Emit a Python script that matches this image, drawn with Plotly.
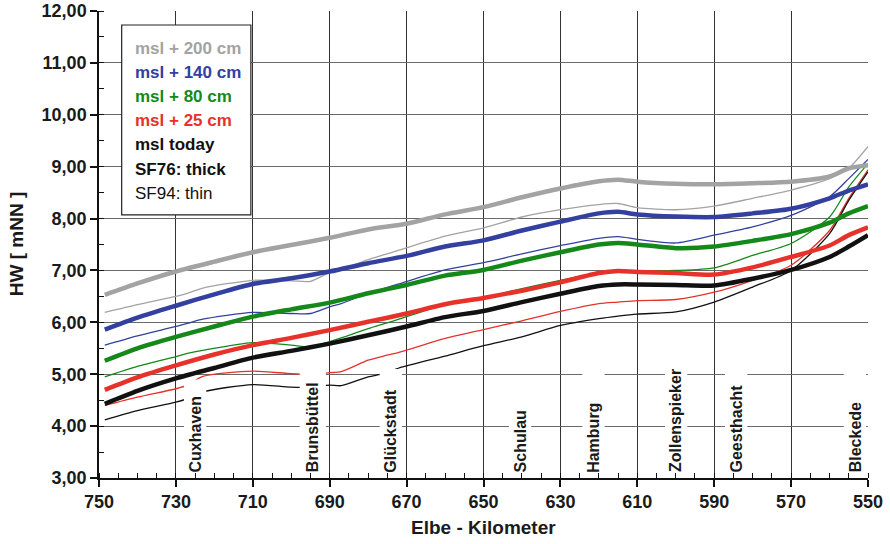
import plotly.graph_objects as go

# Elbe-Kilometer positions (SF76 runs, thick lines)
km_thick = [748.5, 740, 730, 720, 710, 700, 690, 680, 670, 660, 650, 640,
            630, 620, 615, 610, 600, 590, 580, 570, 560, 555, 550]

sf76_msl200 = [6.53, 6.75, 6.98, 7.17, 7.35, 7.49, 7.63, 7.79, 7.90, 8.08, 8.22, 8.41,
               8.58, 8.72, 8.75, 8.71, 8.67, 8.66, 8.68, 8.71, 8.81, 8.97, 9.03]
sf76_msl140 = [5.86, 6.09, 6.32, 6.54, 6.74, 6.85, 6.98, 7.14, 7.28, 7.46, 7.58, 7.77,
               7.94, 8.10, 8.13, 8.08, 8.04, 8.03, 8.10, 8.19, 8.39, 8.54, 8.66]
sf76_msl80 = [5.26, 5.50, 5.72, 5.92, 6.11, 6.25, 6.38, 6.56, 6.72, 6.90, 7.01, 7.19,
              7.35, 7.50, 7.53, 7.50, 7.43, 7.46, 7.57, 7.70, 7.92, 8.10, 8.24]
sf76_msl25 = [4.70, 4.94, 5.17, 5.38, 5.56, 5.70, 5.85, 6.01, 6.17, 6.35, 6.47, 6.61,
              6.77, 6.95, 6.99, 6.97, 6.95, 6.92, 7.06, 7.26, 7.48, 7.68, 7.83]
sf76_today = [4.43, 4.68, 4.92, 5.12, 5.32, 5.45, 5.59, 5.75, 5.92, 6.10, 6.22, 6.39,
              6.55, 6.70, 6.73, 6.73, 6.72, 6.71, 6.84, 7.01, 7.26, 7.46, 7.68]

# Elbe-Kilometer positions (SF94 runs, thin lines)
km_thin = [748.5, 740, 730, 727, 723, 710, 700, 695, 690, 687, 680, 676, 672, 660,
           650, 640, 630, 620, 615, 610, 600, 590, 580, 570, 560, 555, 550]

sf94_msl200 = [6.19, 6.34, 6.50, 6.56, 6.66, 6.81, 6.80, 6.79, 6.96, 7.02, 7.21, 7.30, 7.39, 7.66,
               7.82, 8.03, 8.17, 8.27, 8.29, 8.21, 8.17, 8.24, 8.39, 8.55, 8.77, 8.97, 9.39]
sf94_msl140 = [5.56, 5.74, 5.92, 5.98, 6.06, 6.19, 6.17, 6.17, 6.30, 6.36, 6.56, 6.65, 6.74, 7.01,
               7.15, 7.32, 7.48, 7.62, 7.65, 7.60, 7.53, 7.68, 7.84, 8.06, 8.42, 8.77, 9.14]
sf94_msl80 = [4.95, 5.15, 5.34, 5.40, 5.46, 5.61, 5.56, 5.53, 5.63, 5.70, 5.88, 5.97, 6.06, 6.34,
              6.48, 6.65, 6.81, 6.96, 7.00, 6.99, 7.00, 7.05, 7.29, 7.52, 8.03, 8.61, 9.06]
sf94_msl25 = [4.40, 4.56, 4.72, 4.79, 4.96, 5.06, 5.01, 5.00, 5.03, 5.05, 5.27, 5.35, 5.42, 5.69,
              5.86, 6.03, 6.21, 6.36, 6.39, 6.42, 6.44, 6.58, 6.81, 7.10, 7.77, 8.39, 8.94]
sf94_today = [4.12, 4.30, 4.46, 4.53, 4.66, 4.80, 4.75, 4.75, 4.79, 4.78, 4.95, 5.01, 5.12, 5.35,
              5.55, 5.72, 5.94, 6.07, 6.12, 6.16, 6.20, 6.39, 6.68, 7.00, 7.71, 8.35, 8.90]

scenario_names = ["msl + 200 cm", "msl + 140 cm", "msl + 80 cm", "msl + 25 cm", "msl today"]
scenario_colors = ["#a3a3a3", "#3340a0", "#14891a", "#e6322a", "#111111"]

stations = ["Cuxhaven", "Brunsbüttel", "Glückstadt", "Schulau", "Hamburg",
            "Zollenspieker", "Geesthacht", "Bleckede"]
station_km = [725.0, 694.4, 674.1, 640.5, 621.4, 599.9, 584.3, 553.4]

x_ticks = list(range(750, 549, -20))
y_ticks = list(range(3, 13))

FONT = "Liberation Sans, Arial, sans-serif"

thin_series = [sf94_msl200, sf94_msl140, sf94_msl80, sf94_msl25, sf94_today]
thick_series = [sf76_msl200, sf76_msl140, sf76_msl80, sf76_msl25, sf76_today]

fig = go.Figure()

for name, col, vals in zip(scenario_names, scenario_colors, thin_series):
    fig.add_trace(go.Scatter(x=km_thin, y=vals, mode="lines", name=name + " (SF94)",
                             line=dict(color=col, width=1.3, shape="spline", smoothing=0.7),
                             showlegend=False))
for name, col, vals in zip(scenario_names, scenario_colors, thick_series):
    fig.add_trace(go.Scatter(x=km_thick, y=vals, mode="lines", name=name + " (SF76)",
                             line=dict(color=col, width=4.5, shape="spline", smoothing=0.7),
                             showlegend=False))

shapes = []
annotations = []

# white label boxes for the gauge stations
box_tops = {"Cuxhaven": 4.90, "Schulau": 4.50}
box_half = {"Brunsbüttel": 3.4}
for st, k in zip(stations, station_km):
    hw = box_half.get(st, 2.9)
    shapes.append(dict(type="rect", xref="x", yref="y", x0=k + hw, x1=k - hw,
                       y0=3.13, y1=box_tops.get(st, 5.10), fillcolor="white",
                       line=dict(width=0), layer="above"))
    annotations.append(dict(x=k, y=3.07, xref="x", yref="y", text=st, textangle=-90,
                            xanchor="center", yanchor="bottom", showarrow=False,
                            font=dict(family=FONT, size=16, color="#1a1a1a", weight="bold")))

# legend box
shapes.append(dict(type="rect", xref="x", yref="y", x0=744.1, x1=710.5, y0=8.07, y1=11.73,
                   fillcolor="white", line=dict(color="#222222", width=1.2), layer="above"))
legend_lines = [(n, c, "bold") for n, c in zip(scenario_names, scenario_colors)]
legend_lines += [("SF76: thick", "#111111", "bold"), ("SF94: thin", "#111111", "normal")]
for i, (txt, col, wt) in enumerate(legend_lines):
    annotations.append(dict(x=741.2, y=11.28 - i * 0.465, xref="x", yref="y", text=txt,
                            xanchor="left", yanchor="middle", showarrow=False,
                            font=dict(family=FONT, size=17, color=col, weight=wt)))

# axis titles
title_font = dict(family=FONT, size=19, weight="bold", color="#1a1a1a")
annotations.append(dict(x=0.5, y=-0.106, xref="paper", yref="paper", text="Elbe - Kilometer",
                        xanchor="center", yanchor="middle", showarrow=False, font=title_font))
annotations.append(dict(x=-0.107, y=0.5, xref="paper", yref="paper", text="HW [ mNN ]",
                        textangle=-90, xanchor="center", yanchor="middle", showarrow=False,
                        font=title_font))

fig.update_layout(
    width=890, height=544,
    margin=dict(l=99, r=22, t=11, b=66, autoexpand=False),
    paper_bgcolor="white", plot_bgcolor="white",
    separators=",.",
    shapes=shapes, annotations=annotations,
    font=dict(family=FONT, color="#111111"),
)

fig.update_xaxes(
    range=[750, 550], tickvals=x_ticks, ticks="outside", ticklen=7, tickwidth=1.5,
    tickcolor="#111111", showline=True, linecolor="#111111", linewidth=1.5,
    showgrid=True, gridcolor="#333333", gridwidth=1, zeroline=False, automargin=False,
    tickfont=dict(family=FONT, size=18, weight="bold", color="#1a1a1a"),
    minor=dict(dtick=5, tick0=550, ticks="inside", ticklen=5, tickwidth=1.2,
               tickcolor="#111111", showgrid=False),
)
fig.update_yaxes(
    range=[3, 12], tickvals=y_ticks, tickformat=".2f", ticks="outside", ticklen=7,
    tickwidth=1.5, tickcolor="#111111", showline=True, linecolor="#111111", linewidth=1.5,
    showgrid=True, gridcolor="#6a6a6a", gridwidth=1, zeroline=False, automargin=False,
    tickfont=dict(family=FONT, size=18, weight="bold", color="#1a1a1a"),
    minor=dict(dtick=0.5, tick0=3, ticks="inside", ticklen=5, tickwidth=1.2,
               tickcolor="#111111", showgrid=False),
)

fig.write_html("out.html")
